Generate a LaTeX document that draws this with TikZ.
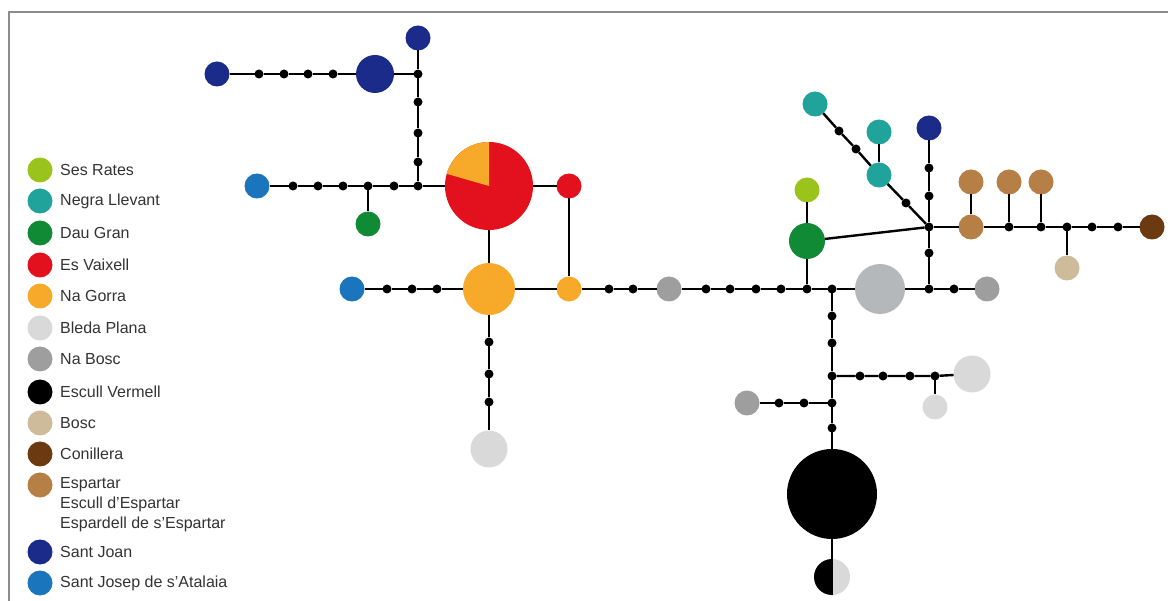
\documentclass[tikz,border=0pt]{standalone}
\usepackage{fontspec}
\setmainfont{Liberation Sans}
\begin{document}
\begin{tikzpicture}[x=1pt,y=-1pt,
  hap/.style 2 args={circle, fill=#1, minimum size=#2, inner sep=0pt, outer sep=0pt},
  mv/.style={circle, fill=black, minimum size=9pt, inner sep=0pt, outer sep=0pt},
  link/.style={line width=2.4pt, black},
  legtxt/.style={anchor=west, inner sep=0pt, font=\fontsize{16}{20}\selectfont, text=txtgray, align=left},
]
\definecolor{sesrates}{HTML}{9AC31C}
\definecolor{negra}{HTML}{1FA39B}
\definecolor{daugran}{HTML}{118A36}
\definecolor{vaixell}{HTML}{E3101E}
\definecolor{gorra}{HTML}{F7AA2A}
\definecolor{bleda}{HTML}{D9D9D9}
\definecolor{nabosc}{HTML}{9E9E9E}
\definecolor{midgray}{HTML}{B5B8BB}
\definecolor{bosc}{HTML}{CDBB9A}
\definecolor{conillera}{HTML}{6B3A10}
\definecolor{espartar}{HTML}{B57F45}
\definecolor{santjoan}{HTML}{1A2B8A}
\definecolor{santjosep}{HTML}{1B75BC}
\definecolor{txtgray}{HTML}{333333}
\definecolor{framegray}{HTML}{8C8C8C}

\useasboundingbox (0,0) rectangle (1168,601);
\fill[white] (0,0) rectangle (1168,601);

% frame
\draw[framegray, line width=2pt] (9,601) -- (9,12) -- (1168,12);

% ---------- legend ----------
\foreach \n/\c/\y/\t in {1/sesrates/170/Ses Rates, 2/negra/201/Negra Llevant,
  3/daugran/233/Dau Gran, 4/vaixell/265/Es Vaixell, 5/gorra/296/Na Gorra,
  6/bleda/328/Bleda Plana, 7/nabosc/359/Na Bosc, 8/black/392/Escull Vermell,
  9/bosc/423/Bosc, 10/conillera/454/Conillera, 12/santjoan/552/Sant Joan,
  13/santjosep/583/Sant Josep de s'Atalaia}{
  \node[hap={\c}{25pt}] (legc\n) at (40,\y) {};
  \node[legtxt] (legt\n) at (60,\y) {\t};
}
\node[hap={espartar}{25pt}] (legc11) at (40,485) {};
\node[legtxt, anchor=north west] (legt11) at (60,477) {Espartar\\Escull d'Espartar\\Espardell de s'Espartar};

% ---------- haplotypes ----------
% north-west group
\node[hap={santjoan}{25pt}] (sjA) at (217,74) {};
\node[mv] (d1) at (259,74) {};
\node[mv] (d2) at (284,74) {};
\node[mv] (d3) at (308,74) {};
\node[mv] (d4) at (333,74) {};
\node[hap={santjoan}{38pt}] (sjB) at (375,74) {};
\node[mv] (jA) at (418,74) {};
\node[hap={santjoan}{25pt}] (sjC) at (418,38) {};
\node[mv] (d5) at (418,102) {};
\node[mv] (d6) at (418,133) {};
\node[mv] (d7) at (418,162) {};
\node[mv] (jB) at (418,186) {};
\node[hap={santjosep}{25pt}] (sjsA) at (257,186) {};
\node[mv] (d8) at (293,186) {};
\node[mv] (d9) at (318,186) {};
\node[mv] (d10) at (343,186) {};
\node[mv] (jC) at (368,186) {};
\node[hap={daugran}{25pt}] (dgA) at (368,224) {};
\node[mv] (d11) at (394,186) {};

% pie: Es Vaixell with a Na Gorra share
\node[hap={vaixell}{88pt}] (pie) at (489,186) {};
\fill[gorra] (pie.center) -- (pie.90) arc[start angle=90, end angle=164, radius=44pt] -- cycle;

\node[hap={vaixell}{25pt}] (evA) at (569,186) {};
\node[hap={gorra}{52pt}] (ngA) at (489,289) {};
\node[hap={gorra}{25pt}] (ngB) at (569,289) {};
\node[hap={santjosep}{25pt}] (sjsB) at (352,289) {};
\node[mv] (d12) at (387,289) {};
\node[mv] (d13) at (412,289) {};
\node[mv] (d14) at (437,289) {};
\node[mv] (d15) at (489,342) {};
\node[mv] (d16) at (489,374) {};
\node[mv] (d17) at (489,402) {};
\node[hap={bleda}{37pt}] (bpA) at (489,449) {};

% central spine
\node[mv] (d18) at (609,289) {};
\node[mv] (d19) at (633,289) {};
\node[hap={nabosc}{25pt}] (nbA) at (669,289) {};
\node[mv] (d20) at (706,289) {};
\node[mv] (d21) at (730,289) {};
\node[mv] (d22) at (756,289) {};
\node[mv] (d23) at (781,289) {};
\node[mv] (jD) at (807,289) {};
\node[hap={daugran}{36pt}] (dgB) at (807,241) {};
\node[hap={sesrates}{25pt}] (srA) at (807,190) {};
\node[mv] (jE) at (832,289) {};
\node[hap={midgray}{50pt}] (gbig) at (880,289) {};
\node[mv] (jF) at (929,289) {};
\node[mv] (d24) at (954,289) {};
\node[hap={nabosc}{25pt}] (nbB) at (987,289) {};

% north-east group
\node[mv] (jG) at (929,227) {};
\node[mv] (d25) at (929,253) {};
\node[mv] (d26) at (929,196) {};
\node[mv] (d27) at (929,168) {};
\node[hap={santjoan}{25pt}] (sjD) at (929,128) {};
\node[hap={negra}{25pt}] (nlA) at (815,104) {};
\node[mv] (d28) at (839,131) {};
\node[mv] (d29) at (856,149) {};
\node[hap={negra}{25pt}] (nlB) at (879,175) {};
\node[hap={negra}{25pt}] (nlC) at (879,132) {};
\node[mv] (d30) at (906,203) {};
\node[hap={espartar}{25pt}] (esA) at (971,227) {};
\node[hap={espartar}{25pt}] (esB) at (971,182) {};
\node[mv] (d31) at (1009,227) {};
\node[hap={espartar}{25pt}] (esC) at (1009,182) {};
\node[mv] (d32) at (1041,227) {};
\node[hap={espartar}{25pt}] (esD) at (1041,182) {};
\node[mv] (jH) at (1067,227) {};
\node[hap={bosc}{25pt}] (boA) at (1067,268) {};
\node[mv] (d33) at (1092,227) {};
\node[mv] (d34) at (1118,227) {};
\node[hap={conillera}{25pt}] (coA) at (1152,227) {};

% southern branch
\node[mv] (d35) at (832,316) {};
\node[mv] (d36) at (832,343) {};
\node[mv] (jI) at (832,376) {};
\node[mv] (jJ) at (832,403) {};
\node[mv] (d37) at (832,428) {};
\node[hap={black}{90pt}] (evm) at (832,494) {};
\node[hap={bleda}{36pt}] (half) at (832,577) {};
\fill[black] (half.north) arc[start angle=90, end angle=270, radius=18pt] -- cycle;
\node[mv] (d38) at (860,376) {};
\node[mv] (d39) at (883,376) {};
\node[mv] (d40) at (910,376) {};
\node[mv] (jK) at (935,376) {};
\node[hap={bleda}{25pt}] (bpB) at (935,407) {};
\node[hap={bleda}{37pt}] (bpC) at (972,374) {};
\node[hap={nabosc}{25pt}] (nbC) at (747,403) {};
\node[mv] (d41) at (779,403) {};
\node[mv] (d42) at (804,403) {};

% ---------- connections ----------
\draw[link] (sjA) -- (d1) -- (d2) -- (d3) -- (d4) -- (sjB) -- (jA);
\draw[link] (sjC) -- (jA) -- (d5) -- (d6) -- (d7) -- (jB);
\draw[link] (sjsA) -- (d8) -- (d9) -- (d10) -- (jC) -- (d11) -- (jB) -- (pie);
\draw[link] (jC) -- (dgA);
\draw[link] (pie) -- (evA) -- (ngB);
\draw[link] (pie) -- (ngA);
\draw[link] (sjsB) -- (d12) -- (d13) -- (d14) -- (ngA) -- (ngB) -- (d18) -- (d19) -- (nbA)
  -- (d20) -- (d21) -- (d22) -- (d23) -- (jD) -- (jE) -- (gbig) -- (jF) -- (d24) -- (nbB);
\draw[link] (ngA) -- (d15) -- (d16) -- (d17) -- (bpA);
\draw[link] (jD) -- (dgB) -- (srA);
\draw[link] (dgB) -- (jG);
\draw[link] (jF) -- (d25) -- (jG) -- (d26) -- (d27) -- (sjD);
\draw[link] (nlA) -- (d28) -- (d29) -- (nlB) -- (d30) -- (jG);
\draw[link] (nlB) -- (nlC);
\draw[link] (jG) -- (esA) -- (d31) -- (d32) -- (jH) -- (d33) -- (d34) -- (coA);
\draw[link] (esA) -- (esB);
\draw[link] (d31) -- (esC);
\draw[link] (d32) -- (esD);
\draw[link] (jH) -- (boA);
\draw[link] (jE) -- (d35) -- (d36) -- (jI) -- (jJ) -- (d37) -- (evm);
\draw[link] (evm.south) -- (half.south);
\draw[link] (jI) -- (d38) -- (d39) -- (d40) -- (jK) -- (bpC);
\draw[link] (jK) -- (bpB);
\draw[link] (nbC) -- (d41) -- (d42) -- (jJ);
\end{tikzpicture}
\end{document}
